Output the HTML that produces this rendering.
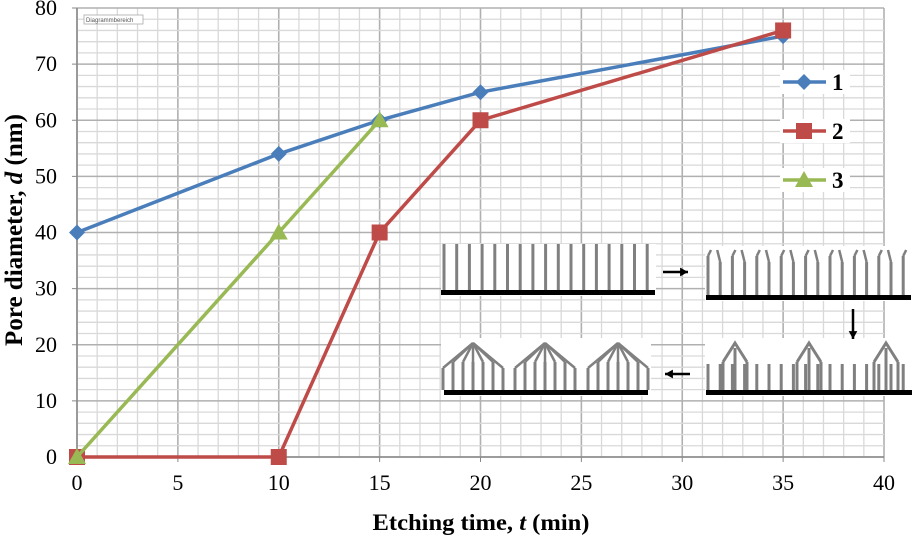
<!DOCTYPE html>
<html><head><meta charset="utf-8"><style>
body{margin:0;background:#fff;}
svg{display:block;font-family:"Liberation Serif",serif;}
</style></head><body>
<svg id="c" width="914" height="536"></svg>
<script>
const xTicks=[0,5,10,15,20,25,30,35,40];
const yTicks=[0,10,20,30,40,50,60,70,80];
const s1x=[0,10,15,20,35], s1y=[40,54,60,65,75];
const s2x=[0,10,15,20,35], s2y=[0,0,40,60,76];
const s3x=[0,10,15], s3y=[0,40,60];
const NS="http://www.w3.org/2000/svg";
const svg=document.getElementById('c');
const X0=77,X1=884,Y0=457,Y1=8;
const X=v=>X0+(X1-X0)*v/40, Y=v=>Y0-(Y0-Y1)*v/80;
function el(t,a,p){const e=document.createElementNS(NS,t);for(const k in a)e.setAttribute(k,a[k]);(p||svg).appendChild(e);return e;}
const grid=el('g',{});


for(let v=0;v<=40;v++){const maj=v%5==0;el('line',{x1:X(v),x2:X(v),y1:Y1,y2:Y0,stroke:maj?'#b0b0b0':'#d9d9d9','stroke-width':maj?1.6:1.3},grid);}
for(let v=0;v<=80;v+=2){const maj=v%10==0;el('line',{x1:X0,x2:X1,y1:Y(v),y2:Y(v),stroke:maj?'#b0b0b0':'#d9d9d9','stroke-width':maj?1.6:1.3},grid);}
const ax=el('g',{});


el('line',{x1:X0,x2:X0,y1:Y1,y2:Y0,stroke:'#888','stroke-width':1.5},ax);
el('line',{x1:X0,x2:X1,y1:Y0,y2:Y0,stroke:'#888','stroke-width':1.5},ax);
xTicks.forEach(v=>{el('line',{x1:X(v),x2:X(v),y1:Y0,y2:Y0+5,stroke:'#888'},ax);const t=el('text',{x:X(v),y:Y0+33,'text-anchor':'middle','font-size':22},ax);t.textContent=v;});
yTicks.forEach(v=>{el('line',{x1:X0-5,x2:X0,y1:Y(v),y2:Y(v),stroke:'#888'},ax);const t=el('text',{x:X0-20,y:Y(v)+7,'text-anchor':'end','font-size':22},ax);t.textContent=v;});
const xt=el('text',{x:481,y:530,'text-anchor':'middle','font-size':23,'font-weight':'bold',textLength:217,lengthAdjust:'spacingAndGlyphs'});
xt.innerHTML='Etching time, <tspan font-style="italic">t</tspan> (min)';

const yt=el('text',{x:0,y:0,'text-anchor':'middle','font-size':25,'font-weight':'bold',transform:'translate(22,230) rotate(-90)'});
yt.innerHTML='Pore diameter, <tspan font-style="italic">d</tspan> (nm)';

const tag=el('rect',{x:84,y:15,width:59,height:9,fill:'#fff',stroke:'#aaa','stroke-width':0.8});

const tt=el('text',{x:86,y:22,'font-size':6,'font-family':'Liberation Sans',fill:'#555'});tt.textContent='Diagrammbereich';

// inset schematic
const ins=el('g',{});


function panel(x,y,w,h){el('rect',{x:x,y:y,width:w,height:h,fill:'#fff'},ins);}
const G='#808080';
function pil(x,top,bot){el('line',{x1:x,x2:x,y1:top,y2:bot,stroke:G,'stroke-width':3},ins);}
function base(x1,x2,y){el('rect',{x:x1,y:y,width:x2-x1,height:5,fill:'#000'},ins);}
// panel 1
panel(441,244,215,52);
for(let i=0;i<17;i++)pil(444+i*12.7,244,290);
base(441,655,290);
// panel 2
panel(705,246,208,55);
for(let i=0;i<17;i++){const x=708+i*12.2;pil(x,i%2?262:256,295);el('line',{x1:x,y1:i%2?262:256,x2:x+(i%2?-3:3),y2:250,stroke:G,'stroke-width':2.5},ins);}
base(706,911,295);
// panel 3
panel(705,338,210,58);
for(let i=0;i<17;i++){const x=708+i*12.2;pil(x,364,390);}
[735,809,886].forEach(c=>{el('polyline',{points:`${c-12},362 ${c},343 ${c+12},362`,fill:'none',stroke:G,'stroke-width':3},ins);pil(c-12,362,390);pil(c+12,362,390);pil(c,348,390);});
base(706,912,390);
// panel 4
panel(441,338,210,58);
[473,545,618].forEach(c=>{for(let k=-3;k<=3;k++){const bx=c+k*10;const top=Math.abs(k)==3?368:362;pil(bx,top,390);el('line',{x1:bx,y1:top,x2:c,y2:343,stroke:G,'stroke-width':2.5},ins);}});
base(444,648,390);
// arrows
function arrow(x1,y1,x2,y2){el('line',{x1:x1,y1:y1,x2:x2,y2:y2,stroke:'#000','stroke-width':2.5},ins);const a=Math.atan2(y2-y1,x2-x1),L=9;el('polygon',{points:`${x2},${y2} ${x2-L*Math.cos(a-0.5)},${y2-L*Math.sin(a-0.5)} ${x2-L*Math.cos(a+0.5)},${y2-L*Math.sin(a+0.5)}`,fill:'#000'},ins);}
arrow(663,272,688,272);arrow(853,309,853,339);arrow(690,374,665,374);

// series
function series(xs,ys,color,marker,name){
  const g=el('g',{});
  
  
  el('polyline',{points:xs.map((v,i)=>X(v)+','+Y(ys[i])).join(' '),fill:'none',stroke:color,'stroke-width':3.5},g);
  xs.forEach((v,i)=>mark(X(v),Y(ys[i]),color,marker,g));
}
function mark(x,y,color,m,g){
  let e;
  if(m=='d')e=el('polygon',{points:`${x},${y-8} ${x+8},${y} ${x},${y+8} ${x-8},${y}`,fill:color},g);
  else if(m=='s')e=el('rect',{x:x-8,y:y-8,width:16,height:16,fill:color},g);
  else e=el('polygon',{points:`${x},${y-9} ${x+9},${y+7} ${x-9},${y+7}`,fill:color},g);
  
  
}
series(s1x,s1y,'#4a7ebb','d','series-1');
series(s2x,s2y,'#be4b48','s','series-2');
series(s3x,s3y,'#98b954','t','series-3');

// legend
const lg=el('g',{});


[['1','#4a7ebb','d',82],['2','#be4b48','s',131],['3','#98b954','t',180]].forEach(([n,c,m,y])=>{
  const g=el('g',{},lg);
  
  
  el('rect',{x:780,y:y-12,width:70,height:24,fill:'#fff'},g);
  el('line',{x1:783,x2:826,y1:y,y2:y,stroke:c,'stroke-width':3.5},g);
  mark(804,y,c,m,g);
  const t=el('text',{x:832,y:y+8,'font-size':23,'font-weight':'bold'},g);t.textContent=n;
});
</script>
</body></html>
